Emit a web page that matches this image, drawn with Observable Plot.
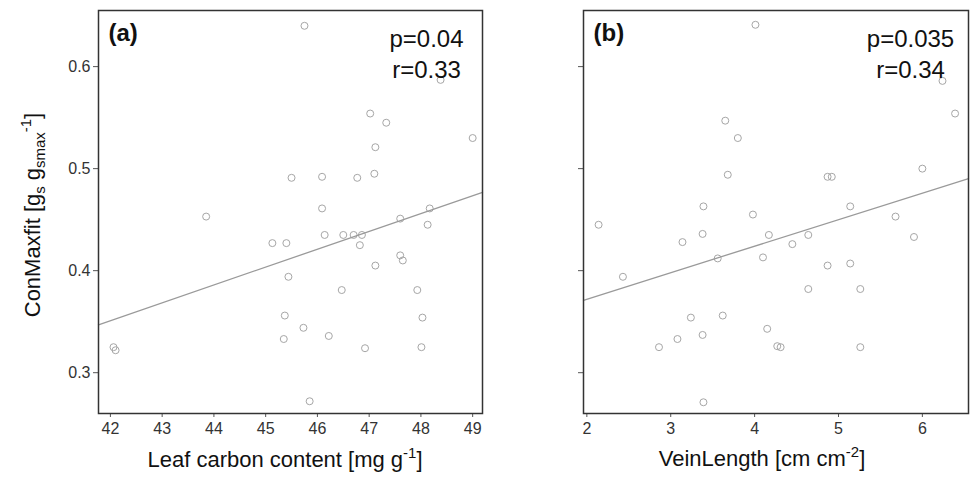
<!DOCTYPE html>
<html>
<head>
<meta charset="utf-8">
<script src="https://cdn.jsdelivr.net/npm/d3@7"></script>
<script src="https://cdn.jsdelivr.net/npm/@observablehq/plot@0.6"></script>
<style>
  body { margin: 0; background: #fff; }
  #wrap { display: flex; width: 974px; height: 477px; }
  #wrap svg { display: block; }
</style>
</head>
<body>
<div id="wrap"></div>
<script>
// Panel (a): leaf carbon content vs. ConMaxfit
const leafCarbon = [42.06, 42.10, 43.85, 45.13, 45.40, 45.44, 45.37, 45.35, 45.75, 45.50,
                    46.09, 46.77, 47.10, 47.02, 47.33, 49.00, 47.12, 48.38, 46.09, 48.17,
                    47.60, 48.13, 46.14, 46.50, 46.70, 46.86, 46.82, 47.60, 47.65, 47.12,
                    46.47, 47.93, 45.73, 46.22, 48.03, 46.92, 48.01, 45.85];
const conMaxA    = [0.325, 0.322, 0.453, 0.427, 0.427, 0.394, 0.356, 0.333, 0.640, 0.491,
                    0.492, 0.491, 0.495, 0.554, 0.545, 0.530, 0.521, 0.587, 0.461, 0.461,
                    0.451, 0.445, 0.435, 0.435, 0.435, 0.435, 0.425, 0.415, 0.410, 0.405,
                    0.381, 0.381, 0.344, 0.336, 0.354, 0.324, 0.325, 0.272];

// Panel (b): vein length vs. ConMaxfit
const veinLength = [4.01, 3.68, 3.80, 3.65, 3.39, 6.24, 6.39, 4.87, 6.00, 2.14,
                    3.38, 3.14, 3.98, 4.17, 4.10, 3.56, 2.43, 3.24, 3.62, 3.38,
                    3.08, 2.86, 4.15, 4.27, 3.39, 5.14, 5.68, 5.90, 4.64, 4.45,
                    5.14, 4.87, 4.64, 5.26, 4.31, 5.26, 4.92];
const conMaxB    = [0.641, 0.494, 0.530, 0.547, 0.463, 0.586, 0.554, 0.492, 0.500, 0.445,
                    0.436, 0.428, 0.455, 0.435, 0.413, 0.412, 0.394, 0.354, 0.356, 0.337,
                    0.333, 0.325, 0.343, 0.326, 0.271, 0.463, 0.453, 0.433, 0.435, 0.426,
                    0.407, 0.405, 0.382, 0.382, 0.325, 0.325, 0.492];

// Axis ticks and ranges
const xTicksA = [42, 43, 44, 45, 46, 47, 48, 49];
const xTicksB = [2, 3, 4, 5, 6];
const yTicks = [0.3, 0.4, 0.5, 0.6];
const xDomainA = [41.77, 49.19];
const xDomainB = [1.96, 6.55];
const yDomain = [0.26, 0.655];

// Fitted regression lines (intercept, slope)
const fitA = [-0.384, 0.0175];
const fitB = [0.320, 0.026];

// Panel tags and statistics
const tagA = "(a)", tagB = "(b)";
const statsA = ["p=0.04", "r=0.33"];
const statsB = ["p=0.035", "r=0.34"];

const FONT = "Liberation Sans, Arial, sans-serif";

function panel({xs, ys, xDomain, xTicks, fit, tag, stats, width, marginLeft, marginRight, showYLabels, statsDx}) {
  const pts = xs.map((x, i) => ({x, y: ys[i]}));
  const fitLine = xDomain.map(x => ({x, y: fit[0] + fit[1] * x}));
  return Plot.plot({
    width, height: 477,
    marginLeft, marginRight, marginTop: 10, marginBottom: 64,
    style: {fontFamily: FONT, fontSize: "16px", color: "#333", background: "#fff"},
    x: {domain: xDomain},
    y: {domain: yDomain},
    marks: [
      Plot.axisX({ticks: xTicks, tickSize: 4, tickPadding: 5, label: null, stroke: "#555",
                  tickFormat: d3.format("d")}),
      Plot.axisY({ticks: yTicks, tickSize: 5, tickPadding: 3, label: null, stroke: "#555",
                  tickFormat: showYLabels ? d3.format(".1f") : () => ""}),
      Plot.dot(pts, {x: "x", y: "y", r: 3.5, stroke: "#a6a6a6", strokeWidth: 1, fill: "none"}),
      Plot.line(fitLine, {x: "x", y: "y", stroke: "#9a9a9a", strokeWidth: 1.3}),
      Plot.frame({stroke: "#333", strokeWidth: 1.5}),
      Plot.text([tag], {frameAnchor: "top-left", dx: 10, dy: 13, text: d => d,
                        textAnchor: "start", lineAnchor: "top", fontSize: 24, fontWeight: "bold", fill: "#111"}),
      Plot.text([stats.join("\n")], {frameAnchor: "top-right", dx: statsDx, dy: 14, text: d => d,
                        textAnchor: "middle", lineAnchor: "top", lineHeight: 1.3, fontSize: 24, fill: "#111"})
    ]
  });
}

// Append a text element built from plain / sub / sup pieces
function richText(svg, {x, y, rotate = 0, size = 22, parts}) {
  const t = d3.select(svg).append("text")
    .attr("transform", `translate(${x},${y}) rotate(${rotate})`)
    .attr("text-anchor", "middle")
    .attr("font-family", FONT)
    .attr("font-size", size)
    .attr("fill", "#111");
  let shift = 0;
  for (const [kind, str] of parts) {
    const target = kind === "sub" ? 5 : kind === "sup" ? -9 : 0;
    t.append("tspan")
      .attr("dy", target - shift)
      .attr("font-size", kind === "text" ? size : size * 0.68)
      .text(str);
    shift = target;
  }
  return t;
}

const svgA = panel({xs: leafCarbon, ys: conMaxA, xDomain: xDomainA, xTicks: xTicksA, fit: fitA,
                    tag: tagA, stats: statsA, width: 490, marginLeft: 98, marginRight: 8,
                    showYLabels: true, statsDx: -56});
const svgB = panel({xs: veinLength, ys: conMaxB, xDomain: xDomainB, xTicks: xTicksB, fit: fitB,
                    tag: tagB, stats: statsB, width: 484, marginLeft: 93, marginRight: 6,
                    showYLabels: false, statsDx: -58});

richText(svgA, {x: 40, y: 215, rotate: -90, parts: [
  ["text", "ConMaxfit [g"], ["sub", "s"], ["text", " g"], ["sub", "smax"], ["sup", "-1"], ["text", "]"]
]});
richText(svgA, {x: 285, y: 467, parts: [
  ["text", "Leaf carbon content [mg g"], ["sup", "-1"], ["text", "]"]
]});
richText(svgB, {x: 272, y: 466, parts: [
  ["text", "VeinLength [cm cm"], ["sup", "-2"], ["text", "]"]
]});

document.getElementById("wrap").append(svgA, svgB);
</script>
</body>
</html>
